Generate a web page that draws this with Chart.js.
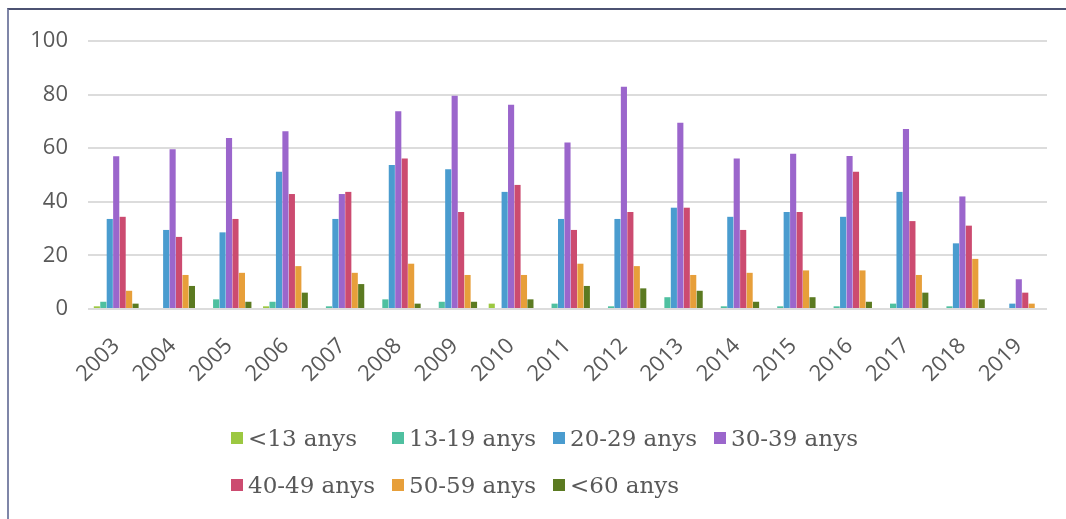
<!DOCTYPE html>
<html>
<head>
<meta charset="utf-8">
<script src="https://cdn.jsdelivr.net/npm/chart.js@4/dist/chart.umd.min.js"></script>
<style>
  html, body { margin: 0; padding: 0; background: #fff; }
  #wrap { position: relative; width: 1066px; height: 519px; overflow: hidden; }
  #frame { position: absolute; left: 7px; top: 8px; width: 1100px; height: 560px;
           border-top: 2px solid #4c5272; border-left: 2px solid #7f86a8; }
  #c1 { position: absolute; left: 0; top: 0; }
  #legend { position: absolute; left: 231px; top: 414px; display: grid;
            grid-template-columns: 161px 161px 161px 161px; grid-auto-rows: 47px;
            font-family: "DejaVu Serif", serif; font-size: 23px; color: #595959; }
  #legend .item { display: flex; align-items: center; white-space: nowrap; }
  #legend .box { width: 12px; height: 12px; margin-right: 5px; flex: none; }
</style>
</head>
<body>
<div id="wrap">
  <div id="frame"></div>
  <canvas id="c1" width="1066" height="519"></canvas>
  <div id="legend"></div>
</div>
<script>
(function(divId){
    var years = ['2003', '2004', '2005', '2006', '2007', '2008', '2009', '2010', '2011',
                 '2012', '2013', '2014', '2015', '2016', '2017', '2018', '2019'];
    var yTicks = [0, 20, 40, 60, 80, 100];

    var lt13   = [1, 0, 0, 1, 0, 0, 0, 2, 0, 0, 0, 0, 0, 0, 0, 0, 0];
    var a13_19 = [2.7, 0, 3.6, 2.7, 1, 3.6, 2.7, 0, 2, 1, 4.4, 1, 1, 1, 2, 1, 0];
    var a20_29 = [33.6, 29.5, 28.6, 51.2, 33.6, 53.7, 52.1, 43.7, 33.6, 33.6, 37.8, 34.4, 36.2, 34.4, 43.7, 24.5, 2];
    var a30_39 = [57, 59.6, 63.8, 66.3, 42.9, 73.8, 79.6, 76.2, 62.1, 82.9, 69.5, 56.2, 57.9, 57.1, 67.2, 42, 11.1];
    var a40_49 = [34.4, 26.9, 33.6, 42.9, 43.7, 56.2, 36.2, 46.3, 29.5, 36.2, 37.8, 29.5, 36.2, 51.2, 32.8, 31.1, 6.1];
    var a50_59 = [6.8, 12.7, 13.5, 16, 13.5, 16.9, 12.7, 12.7, 16.9, 16, 12.7, 13.5, 14.4, 14.4, 12.7, 18.7, 2];
    var gt60   = [2, 8.6, 2.7, 6.1, 9.3, 2, 2.7, 3.6, 8.6, 7.7, 6.8, 2.7, 4.4, 2.7, 6.1, 3.6, 0];

    var labels = ['<13 anys', '13-19 anys', '20-29 anys', '30-39 anys', '40-49 anys', '50-59 anys', '<60 anys'];
    var colors = ['#9cc841', '#4fc0a0', '#4a9ccf', '#9b66cc', '#cc4b70', '#e79f3a', '#5b7a21'];
    var series = [lt13, a13_19, a20_29, a30_39, a40_49, a50_59, gt60];

    var tickFont = { family: '"Open Sans", sans-serif', size: 22 };

    var data = {
        labels: years,
        datasets: series.map(function(s, i){
            return {
                label: labels[i],
                data: s,
                backgroundColor: colors[i],
                borderWidth: 0,
                categoryPercentage: 0.8,
                barPercentage: 0.95
            };
        })
    };

    var options = {
        responsive: false,
        animation: false,
        layout: { padding: { left: 0, right: 19, top: 41, bottom: 0 } },
        plugins: {
            legend: { display: false },
            tooltip: { enabled: false }
        },
        scales: {
            x: {
                grid: { display: false, drawTicks: false },
                border: { display: false },
                ticks: {
                    color: '#595959', font: tickFont,
                    minRotation: 45, maxRotation: 45, padding: 24
                },
                afterFit: function(scale){ scale.height = 210; }
            },
            y: {
                min: 0, max: 100,
                afterBuildTicks: function(scale){
                    scale.ticks = yTicks.map(function(v){ return { value: v }; });
                },
                grid: { color: '#dcdcdc', lineWidth: 2, drawTicks: false },
                border: { display: false },
                ticks: { color: '#595959', font: tickFont, padding: 20 },
                afterFit: function(scale){ scale.width = 88; }
            }
        }
    };

    var div = document.getElementById(divId);
    if (!div)
        return;

    var ctx = div.getContext("2d");
    var chart = new Chart(ctx, {
        type: 'bar',
        data: data,
        options: options
    });

    // legend laid out in a 4-column grid like the original
    var leg = document.getElementById('legend');
    chart.data.datasets.forEach(function(ds){
        var item = document.createElement('div');
        item.className = 'item';
        var box = document.createElement('span');
        box.className = 'box';
        box.style.background = ds.backgroundColor;
        var txt = document.createElement('span');
        txt.textContent = ds.label;
        item.appendChild(box);
        item.appendChild(txt);
        leg.appendChild(item);
    });
})("c1");
</script>
</body>
</html>
